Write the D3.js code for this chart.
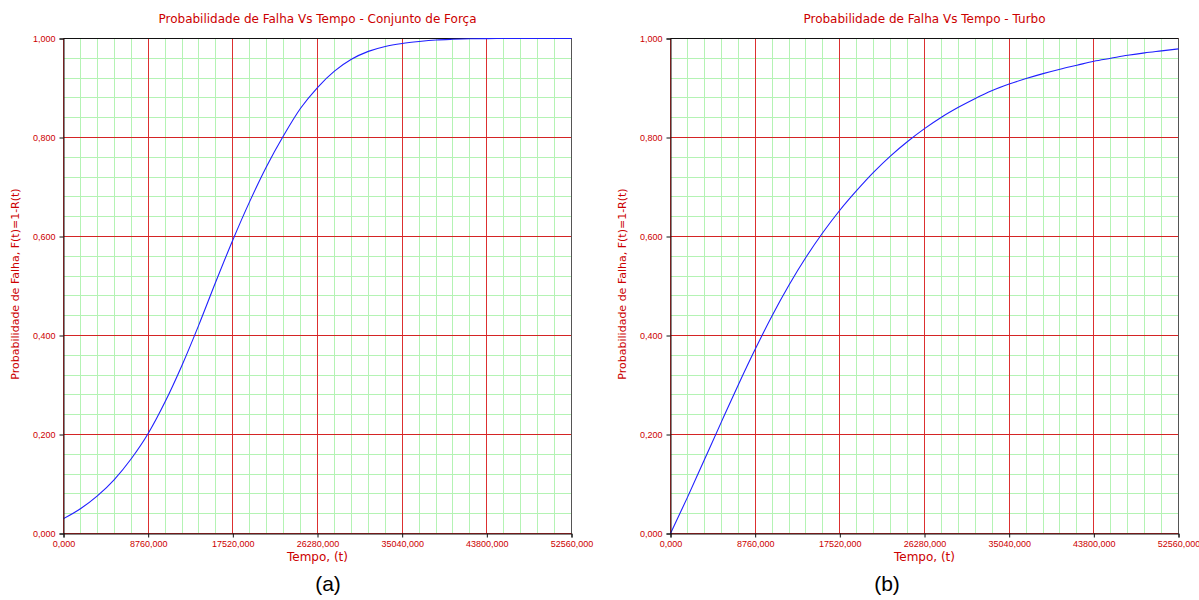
<!DOCTYPE html>
<html>
<head>
<meta charset="utf-8">
<script src="https://cdn.jsdelivr.net/npm/d3@7/dist/d3.min.js"></script>
<style>
  body { margin: 0; background: white; }
</style>
</head>
<body>
<script>
// time points (hours) read at every minor grid step
var tPoints = [0, 1752, 3504, 5256, 7008, 8760, 10512, 12264, 14016, 15768,
  17520, 19272, 21024, 22776, 24528, 26280, 28032, 29784, 31536, 33288,
  35040, 36792, 38544, 40296, 42048, 43800, 45552, 47304, 49056, 50808, 52560];

// F(t) - Conjunto de Força
var forcaF = [0.030, 0.050, 0.076, 0.109, 0.151, 0.202, 0.266, 0.340, 0.422, 0.509,
  0.593, 0.671, 0.742, 0.804, 0.859, 0.901, 0.934, 0.958, 0.974, 0.984,
  0.990, 0.994, 0.997, 0.9985, 0.9995, 0.9998, 1.0, 1.0, 1.0, 1.0, 1.0];

// F(t) - Turbo
var turboF = [0.000, 0.073, 0.149, 0.225, 0.300, 0.372, 0.440, 0.502, 0.558, 0.608,
  0.653, 0.693, 0.730, 0.763, 0.792, 0.818, 0.841, 0.861, 0.879, 0.895,
  0.908, 0.919, 0.929, 0.938, 0.946, 0.954, 0.960, 0.966, 0.971, 0.975, 0.979];

var xTicks = [0, 8760, 17520, 26280, 35040, 43800, 52560];
var xTickLabels = ["0,000", "8760,000", "17520,000", "26280,000", "35040,000", "43800,000", "52560,000"];
var yTicks = [0, 0.2, 0.4, 0.6, 0.8, 1.0];
var yTickLabels = ["0,000", "0,200", "0,400", "0,600", "0,800", "1,000"];

var titles = ["Probabilidade de Falha Vs Tempo - Conjunto de Força", "Probabilidade de Falha Vs Tempo - Turbo"];
var panelLetters = ["(a)", "(b)"];
var xLabel = "Tempo, (t)";
var yLabel = "Probabilidade de Falha, F(t)=1-R(t)";

var W = 1199, H = 600;
var plotW = 508, plotH = 495, plotTop = 38.5;
var panelLeft = [63.5, 670.5];
var letterX = [328, 887];   // the (a)/(b) captions are not centred on the plots

var red = "#cc0000";

var svg = d3.select("body")
  .append("svg")
  .attr("width", W)
  .attr("height", H)
  .style("background-color", "white");

function drawPanel(idx, values) {
  var g = svg.append("g")
    .attr("transform", "translate(" + panelLeft[idx] + "," + plotTop + ")");

  var x = d3.scaleLinear().domain([0, 52560]).range([0, plotW]);
  var y = d3.scaleLinear().domain([0, 1]).range([plotH, 0]);

  // minor grid (green)
  var minorX = d3.range(0, 52561, 1752);
  var minorY = d3.range(0, 1.0001, 0.04);
  g.append("g").selectAll("line")
    .data(minorX)
    .enter().append("line")
    .attr("x1", function(d) { return Math.round(x(d)); })
    .attr("x2", function(d) { return Math.round(x(d)); })
    .attr("y1", 0).attr("y2", plotH)
    .attr("stroke", "#b4f3b4").attr("stroke-width", 1);
  g.append("g").selectAll("line")
    .data(minorY)
    .enter().append("line")
    .attr("y1", function(d) { return Math.round(y(d)); })
    .attr("y2", function(d) { return Math.round(y(d)); })
    .attr("x1", 0).attr("x2", plotW)
    .attr("stroke", "#b4f3b4").attr("stroke-width", 1);

  // major grid (red)
  g.append("g").selectAll("line")
    .data(xTicks)
    .enter().append("line")
    .attr("x1", function(d) { return Math.round(x(d)); })
    .attr("x2", function(d) { return Math.round(x(d)); })
    .attr("y1", 0).attr("y2", plotH)
    .attr("stroke", "#dc3030").attr("stroke-width", 1);
  g.append("g").selectAll("line")
    .data(yTicks)
    .enter().append("line")
    .attr("y1", function(d) { return Math.round(y(d)); })
    .attr("y2", function(d) { return Math.round(y(d)); })
    .attr("x1", 0).attr("x2", plotW)
    .attr("stroke", "#d42424").attr("stroke-width", 1);

  // frame: top black, right gray
  g.append("line").attr("x1", 0).attr("x2", plotW).attr("y1", 0).attr("y2", 0)
    .attr("stroke", "#111");
  g.append("line").attr("x1", plotW).attr("x2", plotW).attr("y1", 0).attr("y2", plotH)
    .attr("stroke", "#555");

  // curve
  var line = d3.line()
    .x(function(d, i) { return x(tPoints[i]); })
    .y(function(d) { return y(d); })
    .curve(d3.curveMonotoneX);
  g.append("path")
    .datum(values)
    .attr("d", line)
    .attr("fill", "none")
    .attr("stroke", "#2020ff")
    .attr("stroke-width", 1.1);

  // axes
  var xAxis = g.append("g")
    .attr("transform", "translate(0," + plotH + ")")
    .call(d3.axisBottom(x).tickValues(xTicks).tickSize(4).tickPadding(3)
      .tickFormat(function(d, i) { return xTickLabels[i]; }));
  var yAxis = g.append("g")
    .call(d3.axisLeft(y).tickValues(yTicks).tickSize(4).tickPadding(4)
      .tickFormat(function(d, i) { return yTickLabels[i]; }));
  [xAxis, yAxis].forEach(function(a) {
    a.select(".domain").attr("stroke", "#111");
    a.selectAll(".tick line").attr("stroke", "#111");
    a.selectAll("text")
      .style("font-family", "Liberation Sans, Arial, sans-serif")
      .style("font-size", "9px")
      .attr("fill", red);
  });

  // title
  g.append("text")
    .attr("x", plotW / 2).attr("y", -16)
    .attr("text-anchor", "middle")
    .style("font-family", "DejaVu Sans, sans-serif")
    .style("font-size", "12px")
    .attr("fill", red)
    .text(titles[idx]);

  // x label
  g.append("text")
    .attr("x", plotW / 2).attr("y", plotH + 27)
    .attr("text-anchor", "middle")
    .style("font-family", "DejaVu Sans, sans-serif")
    .style("font-size", "12px")
    .attr("fill", red)
    .text(xLabel);

  // y label
  g.append("text")
    .attr("transform", "translate(-45," + (plotH / 2 - 2) + ") rotate(-90)")
    .attr("text-anchor", "middle")
    .style("font-family", "DejaVu Sans, sans-serif")
    .style("font-size", "11px")
    .attr("fill", red)
    .text(yLabel);

  // panel letter
  svg.append("text")
    .attr("x", letterX[idx]).attr("y", plotTop + plotH + 57)
    .attr("text-anchor", "middle")
    .style("font-family", "Liberation Sans, Arial, sans-serif")
    .style("font-size", "21px")
    .attr("fill", "#000")
    .text(panelLetters[idx]);
}

drawPanel(0, forcaF);
drawPanel(1, turboF);
</script>
</body>
</html>
